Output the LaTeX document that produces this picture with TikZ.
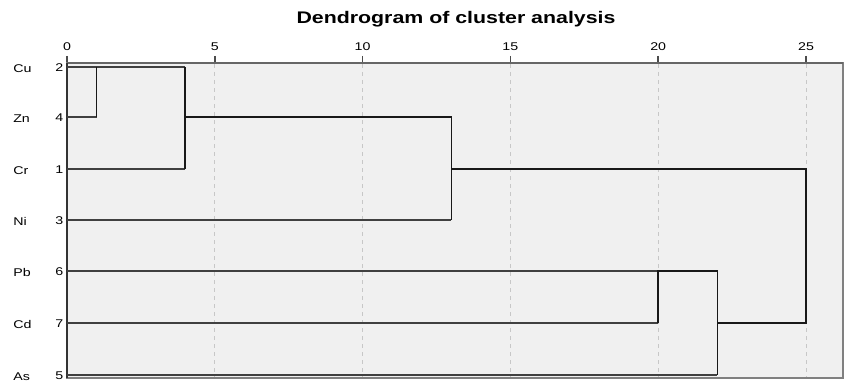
\documentclass[tikz,border=0pt]{standalone}
\usepackage{graphicx}
\usepackage{fontspec}
\setmainfont{Liberation Sans}
\newcommand{\hstretch}[1]{\scalebox{1.27}[1]{#1}}
\begin{document}
\begin{tikzpicture}[x=0.75pt,y=-0.75pt,
  leaf/.style={line width=0.9pt, draw=black!75},
  link/.style={line width=1.1pt, draw=black!90},
  gridline/.style={draw=black!22, dash pattern=on 3pt off 3pt, line width=0.7pt},
  lab/.style={font=\fontsize{8.4}{10}\selectfont, inner sep=0pt},
  ticklab/.style={font=\fontsize{8.4}{10}\selectfont, inner sep=0pt, anchor=base},
]
\useasboundingbox (0,0) rectangle (845,385);
\fill[white] (0,0) rectangle (845,385);
\fill[black!6] (67,63) rectangle (843,378);
% grid and ticks
\foreach \k in {0,5,10,15,20,25}{
  \pgfmathsetmacro{\xx}{67+29.56*\k}
  \ifnum\k>0 \draw[gridline] (\xx,64) -- (\xx,377); \fi
  \draw[black!70, line width=1.3pt] (\xx,56) -- (\xx,63);
  \node[ticklab] (t\k) at (\xx,50.7) {\hstretch{\k}};
}
\draw[black!50, line width=0.8pt] (67,63) rectangle (843,378);
\draw[black!60, line width=1.3pt] (67,63) -- (843,63);
\draw[black!80, line width=1.6pt] (67,63) -- (67,378);
% title
\node[font=\bfseries\fontsize{12.6}{14}\selectfont, inner sep=0pt, anchor=base] (title) at (456,24) {\hstretch{Dendrogram of cluster analysis}};
% leaf labels
\foreach \n/\i/\y in {Cu/2/67, Zn/4/117, Cr/1/169, Ni/3/220, Pb/6/271, Cd/7/323, As/5/375}{
  \node[lab, anchor=base west] (n\n) at (13,\y+5.3) {\hstretch{\n}};
  \node[lab, anchor=base east] (i\n) at (63.5,\y+4) {\hstretch{\i}};
  \coordinate (s\n) at (67,\y);
}
% merge coordinates
\coordinate (a1t) at (96.6,67);
\coordinate (a1b) at (96.6,117);
\coordinate (a4t) at (185.2,67);
\coordinate (a4m) at (185.2,117);
\coordinate (a4b) at (185.2,169);
\coordinate (b13t) at (451.3,117);
\coordinate (b13m) at (451.3,169);
\coordinate (b13b) at (451.3,220);
\coordinate (c25t) at (806,169);
\coordinate (c25b) at (806,323);
\coordinate (e20t) at (658.2,271);
\coordinate (e20b) at (658.2,323);
\coordinate (d22t) at (717.3,271);
\coordinate (d22m) at (717.3,323);
\coordinate (d22b) at (717.3,375);
% leaves
\draw[leaf] (sZn) -- (a1b);
\draw[leaf] (sCu) -- (a4t);
\draw[leaf] (sCr) -- (a4b);
\draw[leaf] (sNi) -- (b13b);
\draw[leaf] (sPb) -- (e20t);
\draw[leaf] (sCd) -- (e20b);
\draw[leaf] (sAs) -- (d22b);
% links
\draw[link] (a1b) -- (a1t);
\draw[link] (a4t) -- (a4b);
\draw[link] (a4m) -- (b13t) -- (b13b);
\draw[link] (b13m) -- (c25t) -- (c25b) -- (d22m);
\draw[link] (e20b) -- (e20t) -- (d22t) -- (d22b);
\end{tikzpicture}
\end{document}
